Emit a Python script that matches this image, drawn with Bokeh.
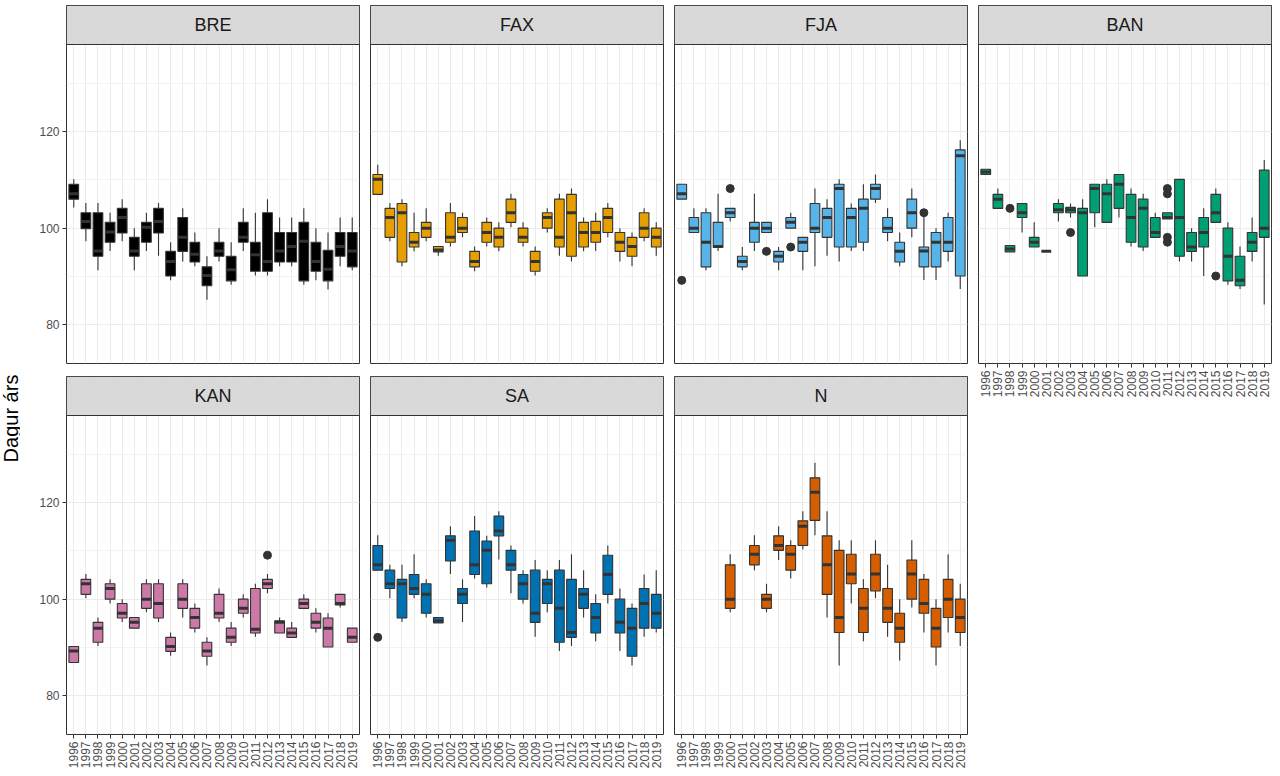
from math import pi
from bokeh.plotting import figure
from bokeh.models import (Range1d, FixedTicker, LinearAxis, Grid, BoxAnnotation,
                          Label, ColumnDataSource)
from bokeh.layouts import row, column
from bokeh.core.properties import value
from bokeh.embed import file_html
from bokeh.resources import INLINE

# ---------------- data ----------------
YEARS = ["1996", "1997", "1998", "1999", "2000", "2001", "2002", "2003",
         "2004", "2005", "2006", "2007", "2008", "2009", "2010", "2011",
         "2012", "2013", "2014", "2015", "2016", "2017", "2018", "2019"]

FACETS = ["BRE", "FAX", "FJA", "BAN", "KAN", "SA", "N"]
COLORS = ["#000000", "#E69F00", "#56B4E9", "#009E73", "#CC79A7", "#0072B2", "#D55E00"]

# (lower whisker, q1, median, q3, upper whisker) per year; None = no data
BRE = [(104.3, 106.0, 107.1, 109.1, 110.1), (97.3, 99.9, 101.4, 103.2, 105.2),
       (91.3, 94.2, 95.3, 103.2, 105.2), (95.3, 97.1, 99.2, 101.2, 103.2),
       (97.3, 99.0, 102.2, 104.1, 106.0), (91.3, 94.2, 95.3, 98.1, 100.0),
       (95.3, 97.1, 100.2, 101.2, 103.2), (94.3, 99.0, 101.4, 104.1, 105.2),
       (89.2, 90.1, 93.1, 95.2, 97.1), (93.1, 95.2, 98.1, 102.2, 104.1),
       (92.1, 93.0, 94.6, 97.1, 99.1), (85.2, 88.1, 90.2, 92.0, 94.2),
       (93.1, 94.2, 95.3, 97.1, 100.0), (88.3, 89.1, 91.4, 94.2, 97.1),
       (95.3, 97.1, 98.1, 101.2, 104.1), (90.2, 91.1, 94.5, 97.1, 103.2),
       (90.2, 91.1, 93.1, 103.2, 106.0), (92.1, 93.0, 95.3, 99.1, 102.2),
       (92.1, 93.0, 96.2, 99.1, 102.2), (88.3, 89.1, 97.3, 101.2, 104.1),
       (89.2, 91.1, 93.1, 97.1, 100.0), (87.3, 89.1, 91.5, 95.4, 99.1),
       (92.1, 94.2, 96.2, 99.1, 102.2), (91.3, 92.0, 95.3, 99.1, 102.2)]

FAX = [(107.0, 107.0, 110.1, 111.1, 113.1), (97.3, 98.1, 102.2, 104.1, 105.2),
       (92.1, 93.0, 103.2, 105.1, 106.0), (95.2, 96.1, 97.1, 99.1, 103.2),
       (97.3, 98.1, 100.0, 101.2, 104.1), (94.3, 95.1, 95.5, 96.2, 96.2),
       (96.2, 97.1, 98.1, 103.2, 105.2), (98.1, 99.1, 100.0, 102.2, 103.2),
       (91.1, 92.0, 93.1, 95.2, 96.2), (96.2, 97.1, 99.1, 101.2, 102.2),
       (95.2, 96.1, 98.1, 100.0, 101.2), (100.2, 101.2, 103.2, 106.0, 107.1),
       (96.2, 97.1, 98.1, 100.0, 101.2), (90.2, 91.1, 93.1, 95.2, 96.2),
       (99.1, 100.0, 102.2, 103.2, 104.1), (94.3, 96.1, 98.1, 106.0, 107.1),
       (93.1, 94.2, 103.2, 107.0, 108.2), (95.2, 96.1, 99.1, 101.2, 102.2),
       (95.3, 97.1, 99.1, 101.4, 103.2), (98.1, 99.1, 102.2, 104.1, 105.2),
       (93.1, 95.2, 97.1, 99.1, 100.0), (92.1, 94.2, 96.2, 98.1, 99.1),
       (97.3, 98.1, 100.0, 103.2, 104.1), (94.3, 96.1, 98.1, 100.0, 101.2)]

FJA = [(106.0, 106.0, 107.1, 109.1, 109.1), (99.1, 99.1, 100.0, 102.2, 104.1),
       (91.3, 92.0, 97.1, 103.2, 104.1), (95.3, 96.0, 96.2, 101.2, 107.1),
       (101.4, 102.2, 103.2, 104.1, 104.1), (91.3, 92.0, 93.1, 94.2, 96.1),
       (95.3, 97.1, 100.0, 101.2, 107.1), (99.1, 99.1, 100.0, 101.2, 101.2),
       (91.3, 93.0, 94.2, 95.2, 96.1), (100.0, 100.0, 101.2, 102.2, 103.2),
       (91.3, 95.2, 97.1, 98.1, 98.1), (92.1, 99.1, 100.0, 105.1, 108.2),
       (94.3, 98.1, 102.2, 104.1, 106.0), (93.1, 96.1, 108.2, 109.1, 110.1),
       (95.3, 96.1, 102.2, 104.1, 105.1), (95.3, 97.1, 104.1, 106.0, 109.1),
       (105.2, 106.0, 108.2, 109.1, 111.1), (97.3, 99.1, 100.0, 102.2, 104.1),
       (92.1, 93.0, 95.2, 97.1, 99.1), (98.1, 100.0, 103.2, 106.0, 108.2),
       (89.3, 92.0, 95.3, 96.1, 102.3), (89.3, 92.0, 97.1, 99.1, 100.0),
       (93.1, 95.2, 97.1, 102.2, 103.2), (87.4, 90.1, 115.0, 116.2, 118.2)]

BAN = [(111.1, 111.1, 111.6, 112.2, 112.2), (104.1, 104.1, 106.0, 107.0, 108.2),
       (95.1, 95.1, 95.7, 96.4, 96.4), (99.1, 102.2, 103.2, 105.1, 105.1),
       (96.1, 96.1, 97.1, 98.1, 101.2), (95.2, 95.2, 95.2, 95.2, 95.2),
       (101.4, 103.2, 103.8, 105.1, 106.0), (102.2, 103.2, 103.8, 104.3, 105.1),
       (90.1, 90.1, 103.2, 104.1, 106.0), (100.2, 103.2, 108.2, 109.1, 109.1),
       (101.2, 101.2, 107.1, 109.1, 110.1), (102.2, 104.1, 109.1, 111.1, 111.1),
       (96.2, 97.1, 102.2, 107.0, 108.2), (95.3, 96.1, 104.1, 106.0, 107.1),
       (98.1, 98.1, 99.1, 102.2, 103.2), (101.9, 101.9, 102.2, 103.2, 103.2),
       (93.1, 94.2, 102.2, 110.1, 110.1), (93.1, 95.2, 96.1, 99.1, 100.0),
       (90.1, 96.1, 99.1, 102.2, 104.1), (101.2, 101.2, 103.2, 107.0, 108.2),
       (88.3, 89.1, 94.2, 100.0, 101.2), (87.4, 88.1, 89.2, 94.2, 96.2),
       (93.1, 95.2, 97.1, 99.1, 102.2), (84.2, 98.1, 100.0, 112.0, 114.1)]

KAN = [(86.9, 86.9, 89.3, 90.2, 90.2), (100.2, 101.0, 103.2, 104.1, 105.2),
       (90.3, 91.1, 94.0, 95.2, 96.2), (99.1, 100.0, 102.2, 103.2, 104.1),
       (95.3, 96.1, 97.1, 99.1, 100.0), (94.0, 94.0, 95.2, 96.2, 96.2),
       (97.3, 98.1, 100.0, 103.2, 104.1), (95.3, 96.1, 99.1, 103.2, 104.1),
       (88.3, 89.2, 90.2, 92.1, 93.1), (96.2, 98.1, 100.0, 103.2, 104.1),
       (93.1, 94.0, 96.2, 98.1, 99.1), (86.3, 88.2, 89.3, 91.1, 92.1),
       (95.3, 96.1, 97.1, 101.0, 102.2), (90.3, 91.1, 92.1, 94.0, 95.3),
       (96.2, 97.1, 98.1, 100.0, 101.0), (92.2, 93.0, 93.8, 102.2, 103.2),
       (101.2, 102.2, 103.2, 104.1, 105.2), (93.0, 93.0, 95.2, 95.5, 96.2),
       (92.1, 92.1, 93.0, 94.0, 95.3), (98.1, 98.1, 99.1, 100.0, 101.0),
       (93.1, 94.0, 95.2, 97.1, 98.1), (90.1, 90.1, 94.0, 96.1, 97.1),
       (98.3, 98.8, 99.1, 101.0, 101.0), (91.1, 91.1, 92.1, 94.0, 94.0)]

SA = [(106.0, 106.0, 107.1, 111.1, 113.2), (100.2, 102.2, 103.2, 106.0, 107.1),
      (95.3, 96.1, 103.2, 104.1, 107.1), (100.2, 101.0, 102.2, 105.1, 109.3),
      (96.2, 97.1, 101.0, 103.2, 104.1), (95.1, 95.1, 95.5, 96.2, 96.2),
      (105.2, 107.9, 112.2, 113.1, 115.1), (95.3, 99.1, 101.0, 102.2, 104.1),
      (104.3, 105.1, 107.1, 114.1, 117.2), (102.4, 103.2, 110.1, 112.0, 113.1),
      (108.2, 113.1, 114.1, 117.2, 118.2), (101.2, 106.0, 107.1, 110.1, 111.1),
      (99.1, 100.0, 103.2, 105.1, 106.0), (92.2, 95.2, 97.1, 106.0, 108.1),
      (97.3, 99.1, 103.2, 104.1, 106.0), (89.3, 91.1, 98.1, 106.0, 108.1),
      (90.3, 92.1, 93.1, 104.1, 109.3), (96.2, 98.1, 101.0, 102.2, 106.0),
      (91.3, 93.0, 96.2, 99.1, 101.0), (99.1, 101.0, 105.1, 109.1, 111.1),
      (89.3, 93.0, 95.2, 100.0, 102.2), (86.3, 88.2, 94.0, 98.1, 99.1),
      (92.2, 94.0, 99.1, 102.2, 105.1), (93.1, 94.0, 97.1, 101.0, 106.0)]

N = [None, None, None, None,
     (97.3, 98.1, 100.0, 107.1, 109.3), None,
     (106.0, 107.1, 109.3, 111.1, 113.2), (97.3, 98.1, 100.0, 101.0, 103.2),
     (108.1, 110.1, 111.1, 113.1, 115.1), (104.3, 106.0, 109.3, 111.1, 112.2),
     (110.3, 111.1, 115.1, 116.2, 118.2), (113.2, 116.3, 122.1, 125.1, 128.2),
     (96.2, 101.0, 107.1, 113.1, 118.2), (86.3, 93.1, 96.2, 110.1, 112.2),
     (99.1, 103.2, 105.2, 109.3, 112.2), (91.3, 93.1, 98.1, 102.2, 104.1),
     (100.2, 101.7, 105.2, 109.3, 112.2), (92.2, 95.2, 98.1, 102.2, 107.1),
     (87.3, 91.1, 94.0, 97.1, 100.0), (98.3, 100.0, 105.2, 108.1, 112.2),
     (93.1, 97.1, 99.1, 104.1, 105.2), (86.3, 90.1, 94.0, 98.1, 100.0),
     (93.1, 96.2, 100.0, 104.1, 109.3), (90.3, 93.1, 96.2, 100.0, 103.2)]

# outliers: (year, value)
OUT_BRE = []
OUT_FAX = []
OUT_FJA = [("1996", 89.2), ("2000", 108.2), ("2003", 95.2), ("2005", 96.1), ("2016", 103.2)]
OUT_BAN = [("1998", 104.1), ("2003", 99.1), ("2011", 108.2), ("2011", 107.1),
           ("2011", 98.1), ("2011", 97.1), ("2015", 90.1)]
OUT_KAN = [("2012", 109.1)]
OUT_SA = [("1996", 92.1)]
OUT_N = []

STATS = [BRE, FAX, FJA, BAN, KAN, SA, N]
OUTLIERS = [OUT_BRE, OUT_FAX, OUT_FJA, OUT_BAN, OUT_KAN, OUT_SA, OUT_N]

Y_TICKS = [80, 100, 120]
Y_MINOR = [90, 110, 130]
Y_TITLE = "Dagur árs"

# ---------------- style / layout ----------------
FONT = "Liberation Sans"
Y_LO, Y_HI = 72.0, 138.0
FRAME_W = 293
FRAME_H = 358
STRIP_PX = 39
PANEL_PX = FRAME_H - STRIP_PX
Y_END = Y_HI + (Y_HI - Y_LO) * STRIP_PX / PANEL_PX
BOX_W = 0.8
EDGE = "#333333"
TICK_FS = "12px"


def make_panel(idx, bl, br, bt, bb, show_x, show_y):
    name = FACETS[idx]
    stats = STATS[idx]
    color = COLORS[idx]
    p = figure(width=bl + FRAME_W + br, height=bt + FRAME_H + bb,
               x_range=Range1d(0.4, len(YEARS) + 0.6), y_range=Range1d(Y_LO, Y_END),
               x_axis_location=None, y_axis_location=None,
               toolbar_location=None, output_backend="svg",
               min_border_left=bl, min_border_right=br,
               min_border_top=bt, min_border_bottom=bb)
    p.center = []
    p.outline_line_color = EDGE
    p.outline_line_width = 1
    p.background_fill_color = "white"
    p.border_fill_color = "white"

    xt = FixedTicker(ticks=list(range(1, len(YEARS) + 1)))
    yt = FixedTicker(ticks=Y_TICKS, minor_ticks=Y_MINOR)
    p.add_layout(Grid(dimension=0, ticker=xt, grid_line_color="#EBEBEB", grid_line_width=1))
    p.add_layout(Grid(dimension=1, ticker=yt, grid_line_color="#EBEBEB", grid_line_width=1,
                      minor_grid_line_color="#EBEBEB", minor_grid_line_width=0.6))

    if show_y:
        ay = LinearAxis(ticker=yt)
        ay.axis_line_color = None
        ay.minor_tick_line_color = None
        ay.major_tick_out = 4
        ay.major_tick_in = 0
        ay.major_tick_line_color = EDGE
        ay.major_label_text_color = "#4D4D4D"
        ay.major_label_text_font = FONT
        ay.major_label_text_font_size = TICK_FS
        ay.major_label_standoff = 3
        p.add_layout(ay, "left")
    if show_x:
        ax = LinearAxis(ticker=xt,
                        major_label_overrides={i + 1: y for i, y in enumerate(YEARS)})
        ax.major_label_orientation = pi / 2
        ax.axis_line_color = None
        ax.minor_tick_line_color = None
        ax.major_tick_out = 4
        ax.major_tick_in = 0
        ax.major_tick_line_color = EDGE
        ax.major_label_text_color = "#4D4D4D"
        ax.major_label_text_font = FONT
        ax.major_label_text_font_size = TICK_FS
        ax.major_label_standoff = 3
        p.add_layout(ax, "below")

    xs, wl, q1, med, q3, wh = [], [], [], [], [], []
    for i, s in enumerate(stats):
        if s is None:
            continue
        xs.append(i + 1)
        wl.append(s[0]); q1.append(s[1]); med.append(s[2]); q3.append(s[3]); wh.append(s[4])
    src = ColumnDataSource(dict(x=xs, wl=wl, q1=q1, med=med, q3=q3, wh=wh))
    p.segment(x0="x", y0="q3", x1="x", y1="wh", source=src, line_color=EDGE, line_width=1.1)
    p.segment(x0="x", y0="wl", x1="x", y1="q1", source=src, line_color=EDGE, line_width=1.1)
    p.vbar(x="x", width=BOX_W, bottom="q1", top="q3", source=src,
           fill_color=color, line_color=EDGE, line_width=1.1)
    p.rect(x="x", y="med", width=BOX_W, height=3, height_units="screen", source=src,
           fill_color=EDGE, line_color=None)

    outs = OUTLIERS[idx]
    if outs:
        ox = [YEARS.index(y) + 1 for y, v in outs]
        oy = [v for y, v in outs]
        p.scatter(x=ox, y=oy, size=8, marker="circle", fill_color=EDGE, line_color=EDGE)

    # facet strip
    p.add_layout(BoxAnnotation(bottom=Y_HI, fill_color="#D9D9D9", fill_alpha=1.0,
                               line_color=EDGE, line_width=1, line_alpha=1.0))
    p.add_layout(Label(x=(len(YEARS) + 1) / 2, y=(Y_HI + Y_END) / 2, text=name,
                       text_align="center", text_baseline="middle",
                       text_font=FONT, text_font_size="18px", text_color="#1A1A1A"))
    return p


TOTAL_H = 775
TOP1 = 5
ROW1_H = TOP1 + FRAME_H + 12          # 375
ROW2_H = TOTAL_H - ROW1_H             # 400
BB2 = ROW2_H - 1 - FRAME_H

f1 = make_panel(0, 46, 5, TOP1, 12, False, True)
f2 = make_panel(1, 6, 5, TOP1, 12, False, False)
f3 = make_panel(2, 6, 5, TOP1, 12, False, False)
f4 = make_panel(3, 6, 1, TOP1, TOTAL_H - TOP1 - FRAME_H, True, False)
f5 = make_panel(4, 46, 5, 1, BB2, True, True)
f6 = make_panel(5, 6, 5, 1, BB2, True, False)
f7 = make_panel(6, 6, 5, 1, BB2, True, False)

# y-axis title spanning both rows
ylab = figure(frame_width=20, frame_height=TOTAL_H,
              x_range=Range1d(0, 1), y_range=Range1d(0, TOTAL_H),
              x_axis_location=None, y_axis_location=None, toolbar_location=None,
              output_backend="svg", min_border=0)
ylab.center = []
ylab.outline_line_color = None
ylab.background_fill_color = "white"
ylab.border_fill_color = "white"
ylab.text(x=[0.5], y=[TOTAL_H - 413], text=[Y_TITLE], angle=pi / 2,
          text_align="center", text_baseline="middle",
          text_font=value(FONT), text_font_size=value("20px"), text_color="#000000")

layout = row(ylab, column(row(f1, f2, f3), row(f5, f6, f7)), f4)

open("out.html", "w").write(file_html(layout, INLINE))
